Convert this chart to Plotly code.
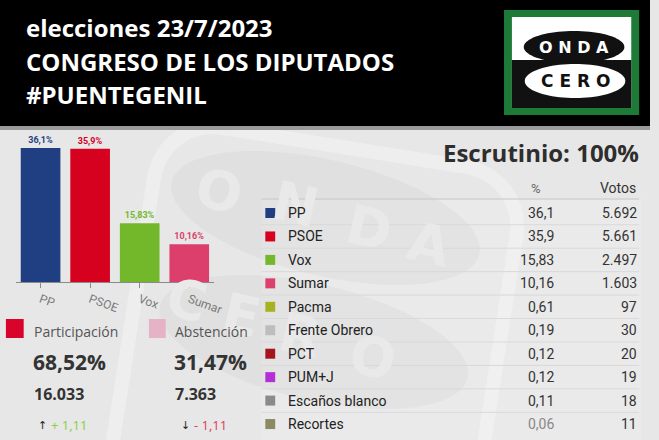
import numpy as np
import plotly.graph_objects as go

W, H = 659, 440

# ---------------- data ----------------
parties = ["PP", "PSOE", "Vox", "Sumar", "Pacma", "Frente Obrero", "PCT", "PUM+J",
           "Escaños blanco", "Recortes"]
pct = [36.1, 35.9, 15.83, 10.16, 0.61, 0.19, 0.12, 0.12, 0.11, 0.06]
votes = [5692, 5661, 2497, 1603, 97, 30, 20, 19, 18, 11]
colors = ["#1f3f82", "#d6001f", "#72b82a", "#dc3f6b", "#a6b31f", "#bdbdbd",
          "#a5161c", "#b42fd6", "#8a8a8a", "#8c8a60"]
bar_parties = parties[:4]
bar_pct = pct[:4]
bar_colors = colors[:4]

participacion_pct = "68,52%"
participacion_votos = "16.033"
participacion_diff = "+ 1,11"
abstencion_pct = "31,47%"
abstencion_votos = "7.363"
abstencion_diff = "- 1,11"
escrutinio = "Escrutinio: 100%"
title_lines = ["elecciones 23/7/2023", "CONGRESO DE LOS DIPUTADOS", "#PUENTEGENIL"]


def fmt_pct(v):
    return f"{v}".replace(".", ",")


def fmt_int(v):
    return f"{v:,}".replace(",", ".")


def px(x):
    return x / W


def py(y):
    return 1 - y / H


shapes = []
annotations = []


def rect(x0, y0, x1, y1, fill, layer="below", line_w=0, line_c=None, opacity=1):
    shapes.append(dict(type="rect", xref="paper", yref="paper",
                       x0=px(x0), x1=px(x1), y0=py(y1), y1=py(y0),
                       fillcolor=fill, line=dict(width=line_w, color=line_c or fill),
                       layer=layer, opacity=opacity))


def poly_path(pts, close=True):
    s = "M " + " L ".join(f"{px(x):.5f},{py(y):.5f}" for x, y in pts)
    return s + (" Z" if close else "")


def ellipse_pts(cx, cy, a, b, theta, n=80):
    t = np.linspace(0, 2 * np.pi, n, endpoint=False)
    th = np.radians(theta)
    xs = cx + a * np.cos(t) * np.cos(th) - b * np.sin(t) * np.sin(th)
    ys = cy + a * np.cos(t) * np.sin(th) + b * np.sin(t) * np.cos(th)
    return list(zip(xs, ys))


def rounded_rect_pts(cx, cy, w, h, r, theta, n=12):
    pts = []
    corners = [(w / 2 - r, -h / 2 + r, -90), (w / 2 - r, h / 2 - r, 0),
               (-w / 2 + r, h / 2 - r, 90), (-w / 2 + r, -h / 2 + r, 180)]
    for ccx, ccy, start in corners:
        for k in range(n + 1):
            a = np.radians(start + 90 * k / n)
            pts.append((ccx + r * np.cos(a), ccy + r * np.sin(a)))
    th = np.radians(theta)
    return [(cx + x * np.cos(th) - y * np.sin(th), cy + x * np.sin(th) + y * np.cos(th))
            for x, y in pts]


def text(x, y, s, size, color, family="Roboto", xanchor="left", bold=False, angle=0,
         yanchor="middle"):
    annotations.append(dict(xref="paper", yref="paper", x=px(x), y=py(y),
                            text=f"<b>{s}</b>" if bold else s, showarrow=False,
                            xanchor=xanchor, yanchor=yanchor, textangle=angle,
                            font=dict(size=size, color=color, family=family)))


# ---------------- watermark ----------------
shapes.append(dict(type="path", xref="paper", yref="paper",
                   path=poly_path(rounded_rect_pts(318, 345, 372, 400, 60, 9)),
                   line=dict(width=14, color="#eeeeee"), fillcolor="rgba(0,0,0,0)",
                   layer="below"))
for cx, cy in [(330, 218), (318, 342)]:
    shapes.append(dict(type="path", xref="paper", yref="paper",
                       path=poly_path(ellipse_pts(cx, cy, 160, 58, 13)),
                       line=dict(width=0), fillcolor="#e0e0e0", layer="below"))
for ch, (x, y) in zip("ONDA", [(222, 192), (300, 205), (375, 228), (435, 245)]):
    text(x, y, ch, 54, "#e9e9e9", family="DejaVu Sans", xanchor="center", bold=True, angle=13)
for ch, (x, y) in zip("CERO", [(190, 300), (245, 315), (305, 335), (378, 357)]):
    text(x, y, ch, 54, "#e9e9e9", family="DejaVu Sans", xanchor="center", bold=True, angle=13)
# table panel
rect(265, 198, 650, 440, "#ffffff", opacity=0.12)

# ---------------- header ----------------
rect(0, 0, W, 126, "#000000")
rect(0, 126, W, 130, "#9a9a9a")
for s, y in zip(title_lines, [27, 61, 94]):
    text(24, y, s, 24, "#ffffff", family="Open Sans", bold=True)

# logo
rect(511, 10, 648, 115, "#1d7b37")
rect(519, 17, 640, 108, "#ffffff")
rect(519, 60, 640, 108, "#111111")
shapes.append(dict(type="path", xref="paper", yref="paper",
                   path=poly_path(ellipse_pts(582, 47, 51, 16, 0)),
                   line=dict(width=0), fillcolor="#111111", layer="below"))
shapes.append(dict(type="path", xref="paper", yref="paper",
                   path=poly_path(ellipse_pts(583, 81, 51, 17, 0)),
                   line=dict(width=0), fillcolor="#ffffff", layer="below"))
text(582, 47, "O N D A", 16, "#ffffff", family="DejaVu Sans", xanchor="center", bold=True)
text(583, 81, "C E R O", 17, "#111111", family="DejaVu Sans", xanchor="center", bold=True)

# ---------------- participation ----------------
shapes.append(dict(type="rect", xref="paper", yref="paper", x0=px(7), x1=px(23),
                   y0=py(337), y1=py(320), fillcolor="#d9042b",
                   line=dict(width=2, color="#d9042b"), layer="below"))
shapes.append(dict(type="rect", xref="paper", yref="paper", x0=px(152), x1=px(167),
                   y0=py(337), y1=py(320), fillcolor="#e6b2c6",
                   line=dict(width=2, color="#e6b2c6"), layer="below"))
text(32, 331, "Participación", 14, "#555555", family="Open Sans")
text(175, 331, "Abstención", 14, "#555555", family="Open Sans")
text(31, 362, participacion_pct, 21, "#333333", family="Open Sans", bold=True)
text(174, 362, abstencion_pct, 21, "#333333", family="Open Sans", bold=True)
text(32, 394, participacion_votos, 16, "#333333", family="Open Sans", bold=True)
text(175, 394, abstencion_votos, 16, "#333333", family="Open Sans", bold=True)
text(36, 425, "↑", 11, "#222222", family="DejaVu Sans")
text(50, 425, participacion_diff, 13, "#86cf3f", family="Open Sans")
text(181, 425, "↓", 11, "#222222", family="DejaVu Sans")
text(195, 425, abstencion_diff, 13, "#e03a5c", family="Open Sans")

# ---------------- table ----------------
text(650, 152, escrutinio, 24, "#2e2e2e", family="Open Sans", xanchor="right", bold=True)
text(543, 188, "%", 13, "#666666", xanchor="center")
text(647, 188, "Votos", 14, "#333333", xanchor="right")
shapes.append(dict(type="line", xref="paper", yref="paper", x0=px(265), x1=px(648),
                   y0=py(199), y1=py(199), line=dict(width=1, color="#c4c4c4"),
                   layer="below"))
row_y0, row_h = 213, 23.45
for i, (p, v, n, c) in enumerate(zip(parties, pct, votes, colors)):
    y = row_y0 + i * row_h
    rect(269, y - 5, 279, y + 5, c)
    text(290, y, p, 14, "#222222")
    text(564, y, fmt_pct(v), 14, "#888888" if i == len(parties) - 1 else "#333333",
         xanchor="right")
    text(648, y, fmt_int(n), 14, "#333333", xanchor="right")
    if i < len(parties) - 1:
        shapes.append(dict(type="line", xref="paper", yref="paper", x0=px(265),
                           x1=px(648), y0=py(y + row_h / 2), y1=py(y + row_h / 2),
                           line=dict(width=1, color="#d9d9d9"), layer="below"))

# ---------------- bar chart ----------------
fig = go.Figure(go.Bar(
    x=bar_parties, y=bar_pct, marker=dict(color=bar_colors, line=dict(width=0)),
    text=[fmt_pct(v) + "%" for v in bar_pct], texttemplate="<b>%{text}</b>",
    textposition="outside", textfont=dict(color=bar_colors, size=9, family="Roboto"),
    cliponaxis=False, width=0.8, hoverinfo="skip"))

fig.update_layout(
    width=W, height=H, margin=dict(l=0, r=0, t=0, b=0),
    paper_bgcolor="#e7e7e7", plot_bgcolor="rgba(0,0,0,0)",
    showlegend=False, shapes=shapes, annotations=annotations,
    xaxis=dict(domain=[px(16), px(217)], range=[-0.5, 3.5], showline=True,
               linecolor="#8a8a8a", linewidth=1, ticks="outside", ticklen=5,
               tickcolor="#8a8a8a", tickangle=20, showgrid=False, zeroline=False,
               tickfont=dict(size=12, color="#7a7a7a", family="Roboto")),
    yaxis=dict(domain=[py(282), py(133.5)], range=[0, 40], visible=False),
)

fig.write_html("out.html")
